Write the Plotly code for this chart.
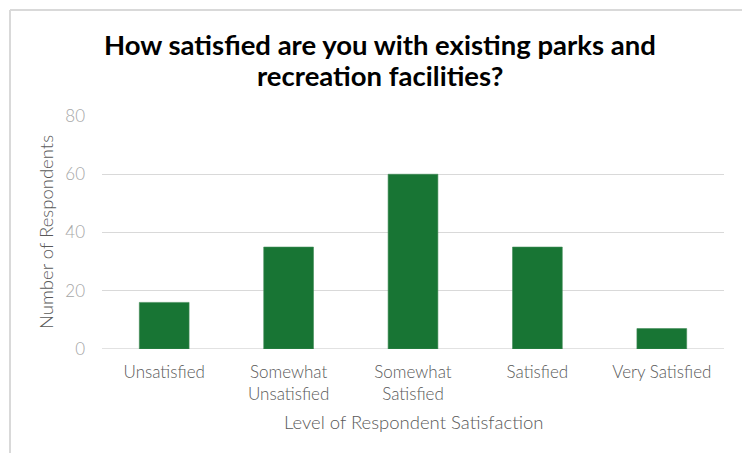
import plotly.graph_objects as go

# Survey responses
categories = ["Unsatisfied", "Somewhat<br>Unsatisfied", "Somewhat<br>Satisfied",
              "Satisfied", "Very Satisfied"]
respondents = [16, 35, 60, 35, 7]
y_ticks = [0, 20, 40, 60, 80]
title_lines = ["How satisfied are you with existing parks and",
               "recreation facilities?"]

W, H = 742, 453
L, R, T, B = 102, 18, 116, 104
pw, ph = W - L - R, H - T - B


def px_x(x):
    return (x - L) / pw


def px_y(y):
    return 1 + (T - y) / ph


fig = go.Figure(
    go.Bar(
        x=categories,
        y=respondents,
        marker=dict(color="#187534", line=dict(color="#3f8a55", width=0.6)),
        width=0.4,
        hoverinfo="x+y",
    )
)

font_family = "Lato"

title_annotations = [
    dict(
        text=line,
        xref="paper", yref="paper",
        x=px_x(380), y=px_y(yc),
        xanchor="center", yanchor="middle",
        showarrow=False,
        font=dict(size=27.5, color="#000000", family=font_family, weight=700),
    )
    for line, yc in zip(title_lines, [44, 75.5])
]

fig.update_layout(
    width=W,
    height=H,
    margin=dict(l=L, r=R, t=T, b=B, pad=0),
    paper_bgcolor="white",
    plot_bgcolor="white",
    showlegend=False,
    font=dict(family=font_family, color="#595959"),
    xaxis=dict(
        type="category",
        tickfont=dict(size=17, color="#595959", family=font_family, weight=300),
        showgrid=False,
        showline=False,
        zeroline=False,
        ticks="",
        ticklabelstandoff=11,
    ),
    yaxis=dict(
        range=[0, 80],
        tickvals=y_ticks,
        tickfont=dict(size=17, color="#a6a6a6", family=font_family, weight=300),
        showgrid=True,
        gridcolor="#d9d9d9",
        gridwidth=1.3,
        zeroline=False,
        showline=False,
        ticks="",
        ticklabelstandoff=16,
    ),
    shapes=[
        # zero baseline
        dict(type="line", xref="paper", yref="y", x0=0, x1=1, y0=0, y1=0,
             line=dict(color="#d9d9d9", width=1.3), layer="below"),
        # frame: top and left edges
        dict(type="line", xref="paper", yref="paper",
             x0=px_x(10), x1=px_x(W + 5), y0=px_y(10), y1=px_y(10),
             line=dict(color="#d9d9d9", width=2)),
        dict(type="line", xref="paper", yref="paper",
             x0=px_x(10), x1=px_x(10), y0=px_y(10), y1=px_y(H + 5),
             line=dict(color="#d9d9d9", width=2)),
    ],
    annotations=title_annotations + [
        dict(
            text="Number of Respondents",
            xref="paper", yref="paper",
            x=px_x(46), y=px_y(232),
            xanchor="center", yanchor="middle",
            textangle=-90,
            showarrow=False,
            font=dict(size=18.5, color="#595959", family=font_family, weight=300),
        ),
        dict(
            text="Level of Respondent Satisfaction",
            xref="paper", yref="paper",
            x=px_x(413), y=px_y(422),
            xanchor="center", yanchor="middle",
            showarrow=False,
            font=dict(size=18.5, color="#595959", family=font_family, weight=300),
        ),
    ],
)

fig.write_html("out.html")
